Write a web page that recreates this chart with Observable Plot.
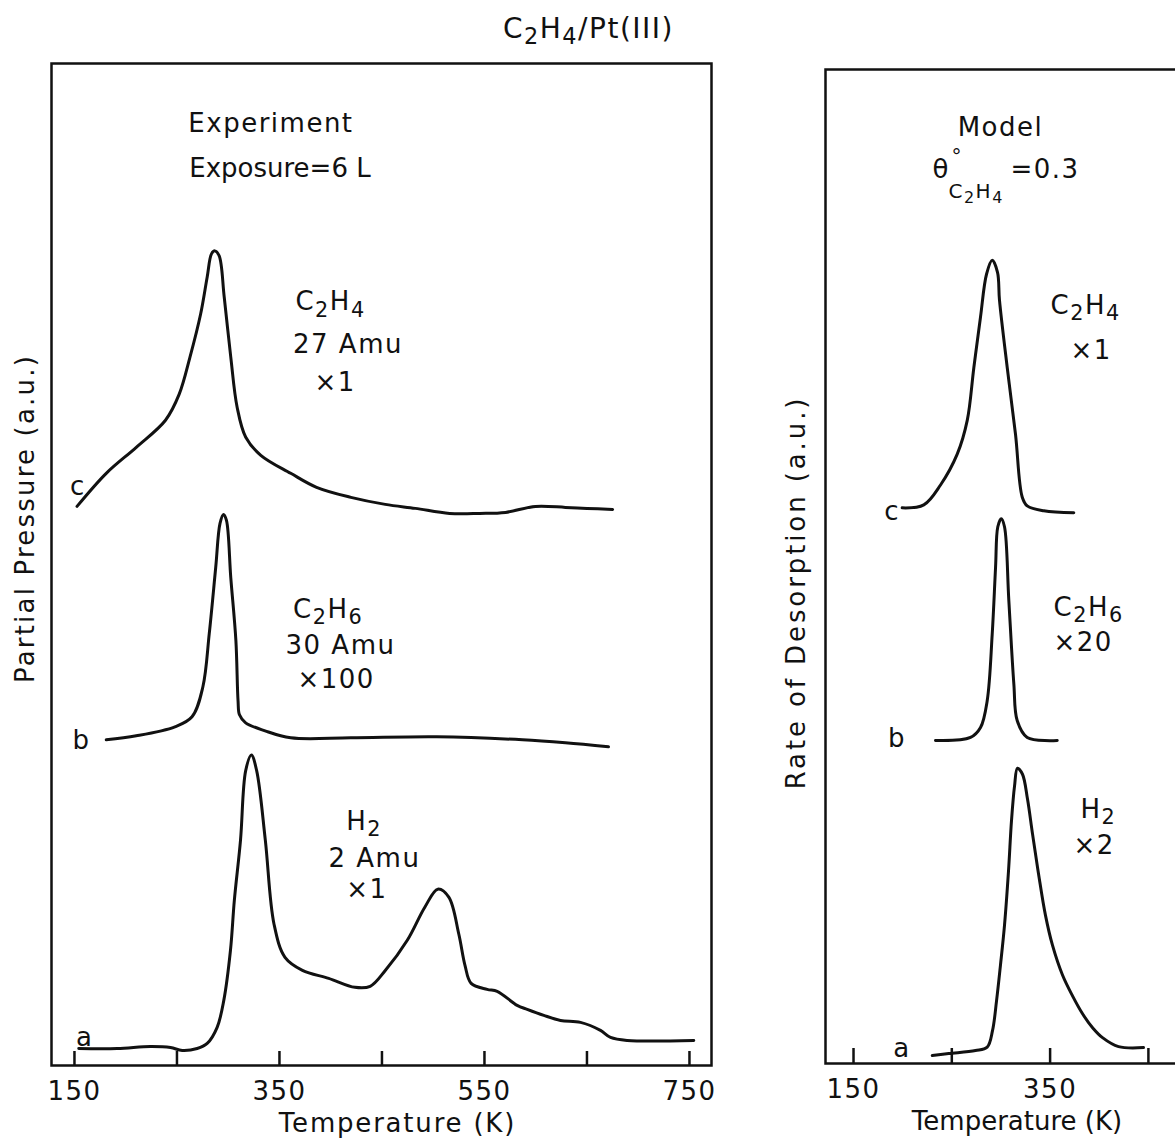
<!DOCTYPE html>
<html><head><meta charset="utf-8">
<script src="https://cdn.jsdelivr.net/npm/d3@7"></script>
<script src="https://cdn.jsdelivr.net/npm/@observablehq/plot@0.6"></script>
<style>
html,body{margin:0;padding:0;background:#fff;overflow:hidden;width:1175px;height:1140px;}
#wrap{position:relative;width:1175px;height:1140px;overflow:hidden;background:#fff;}
#left,#right{position:absolute;top:0;}
#left{left:0;width:740px;} #right{left:760px;width:450px;}
svg{max-width:none !important;}
svg text{letter-spacing:1.5px;}
</style></head><body><div id="wrap"><div id="left"></div><div id="right"></div></div>
<script>
// ---------- data (temperature K, signal in a.u. with each trace's offset) ----------
const leftTicks = [150, 250, 350, 450, 550, 650, 750];
const leftTickLabels = [150, 350, 550, 750];
const rightTicks = [150, 250, 350, 450];
const rightTickLabels = [150, 350];

// Experiment: C2H4 27 amu (trace c)
const expC2H4 = [[152.5,55.8],[181,59.1],[210.3,61.7],[238.8,64.4],[252.2,67.0],[262.7,70.7],[273.1,75.0],[279.5,78.7],[283.7,81.0],[287,81.3],[291.2,80.8],[296.1,76.7],[302.5,70.7],[308.7,65.7],[317.1,62.7],[331.8,60.9],[361,59.1],[386.2,57.7],[419.7,56.7],[453.2,56.0],[482.5,55.6],[516,55.1],[545.3,55.1],[570.5,55.2],[599.8,55.8],[629,55.7],[650,55.6],[675,55.5]];
// Experiment: C2H6 30 amu x100 (trace b)
const expC2H6 = [[181,32.5],[210.3,32.9],[248,33.8],[264.7,34.8],[275.3,37.8],[281.5,43.1],[287.8,49.7],[292,54.1],[295.4,55.0],[298.3,54.4],[302.5,48.7],[307.5,42.4],[309.6,36.4],[311,35.0],[317,34.2],[336,33.4],[361,32.7],[419.7,32.7],[503.5,32.8],[587.2,32.5],[629,32.2],[671,31.8]];
// Experiment: H2 2 amu (trace a)
const expH2 = [[154.2,1.7],[191.7,1.7],[224.1,1.9],[243.7,1.8],[255.1,1.5],[269.7,1.7],[279.5,2.2],[289.2,3.8],[295.7,6.5],[302.2,11.5],[306,16.5],[312,22.5],[317,29.4],[322.6,31.0],[327.8,29.4],[336.2,22.5],[344.7,14.1],[355.4,10.8],[372.4,9.5],[398,8.7],[423.6,7.8],[438.5,7.9],[453.4,9.5],[474.7,12.5],[491.8,15.8],[504.5,17.6],[515.2,16.8],[525,13.1],[531,10.0],[537,8.2],[552.6,7.6],[562.4,7.4],[581.9,6.0],[591.7,5.6],[607.9,5.0],[624.2,4.5],[643.7,4.3],[663.2,3.5],[673,2.8],[689.2,2.5],[754.2,2.5]];

// Model: C2H4 (c), C2H6 x20 (b), H2 x2 (a)
const modelC2H4 = [[199.5,55.9],[221.5,56.2],[238.5,58.2],[255.5,61.3],[265.7,64.7],[272.4,70.0],[279.2,75.1],[285.3,79.4],[291.1,80.8],[296.5,79.6],[298.5,76.8],[306.4,70.0],[314.8,63.3],[321.6,57.0],[326.7,56.1],[343.6,55.6],[374.1,55.4]];
const modelC2H6 = [[233.4,32.5],[269,32.8],[279.2,33.8],[286,36.5],[291.1,43.2],[294.5,49.9],[296.8,54.0],[300.3,54.8],[303.6,54.0],[308,46.6],[313.1,38.2],[316.5,34.5],[326.7,32.8],[357.2,32.5]];
const modelH2 = [[230.1,0.8],[246.9,1.0],[274.1,1.3],[286,1.65],[291.4,3.3],[295.5,6.3],[299.5,9.9],[303.6,13.9],[307.7,19.4],[310.7,24.4],[313.8,27.9],[316.8,29.7],[321.9,29.1],[327,26.6],[332.1,23.1],[338.2,19.1],[345.3,14.9],[352.4,11.9],[362.6,8.9],[372.8,6.8],[383,5.0],[393.2,3.6],[403.3,2.6],[419.6,1.7],[445,1.6]];

// annotations (text, T, v)
const leftLetters = [{text:"c",T:153.4,v:57.8},{text:"b",T:156.8,v:32.4},{text:"a",T:160,v:2.74}];
const rightLetters = [{text:"c",T:189.2,v:55.5},{text:"b",T:194.3,v:32.7},{text:"a",T:199.3,v:1.46}];
const leftHeadings = [{text:"Experiment",T:341.7,v:93.15},{text:"Exposure=6 L",T:350.5,v:88.65}];
const leftSpecies = [{text:"C_2H_4",T:365.6,v:75.35},{text:"27 Amu",T:363.2,v:71.06},{text:"×1",T:384.1,v:67.3},
  {text:"C_2H_6",T:363.2,v:44.7},{text:"30 Amu",T:355.9,v:41.1},{text:"×100",T:367.6,v:37.7},
  {text:"H_2",T:415.1,v:23.55},{text:"2 Amu",T:397.8,v:19.8},{text:"×1",T:415.1,v:16.7}];
const rightHeadings = [{text:"Model",T:299.5,v:93.36}];
const rightThetaBig = [{text:"θ",T:230.4,v:89.1},{text:"=0.3",T:309.7,v:89.1}];
const rightThetaSmall = [{text:"°",T:249.7,v:90.6},{text:"C_2H_4",T:246.6,v:87.1}];
const rightSpecies = [{text:"C_2H_4",T:350.4,v:75.45},{text:"×1",T:370.8,v:70.9},
  {text:"C_2H_6",T:353.5,v:45.07},{text:"×20",T:353.5,v:41.5},
  {text:"H_2",T:380.9,v:24.7},{text:"×2",T:373.8,v:21.1}];

const title = "C_2H_4/Pt(III)";
const xLabel = "Temperature (K)";
const leftYLabel = "Partial Pressure (a.u.)";
const rightYLabel = "Rate of Desorption (a.u.)";

// ---------- drawing ----------
const INK = "#111";
const FONT = "DejaVu Sans";

function subscripts(svg) {
  d3.select(svg).selectAll("text").each(function() {
    const s = this.textContent;
    if (!s.includes("_")) return;
    const segs = [];
    for (let i = 0; i < s.length; i++) {
      if (s[i] === "_" && i + 1 < s.length) { segs.push({t: s[i+1], sub: true}); i++; }
      else {
        if (segs.length && !segs[segs.length-1].sub) segs[segs.length-1].t += s[i];
        else segs.push({t: s[i], sub: false});
      }
    }
    const el = d3.select(this);
    el.text(null);
    let prevSub = false;
    for (const g of segs) {
      const ts = el.append("tspan").text(g.t);
      if (g.sub) { ts.attr("font-size", "80%").attr("dy", "0.3em"); }
      else if (prevSub) { ts.attr("dy", "-0.24em"); }
      prevSub = g.sub;
    }
  });
  return svg;
}

function spacing(svg, content, ls) {
  d3.select(svg).selectAll("text").filter(function() { return this.textContent === content; })
    .style("letter-spacing", ls);
}

function panel(o) {
  const frameH = o.height - o.marginTop - o.marginBottom;
  const lineOpts = {x: d => d[0], y: d => d[1], curve: "catmull-rom", stroke: INK, strokeWidth: 3, strokeLinejoin: "round", strokeLinecap: "round"};
  const marks = [
    Plot.frame({stroke: INK, strokeWidth: 2.5}),
    Plot.tickX(o.ticks, {x: d => d, insetTop: frameH - o.tickLen, stroke: INK, strokeWidth: 2.5}),
    Plot.axisX({ticks: o.tickLabels, tickSize: 0, tickPadding: 16, label: null}),
    ...o.curves.map(c => Plot.line(c, lineOpts)),
    Plot.text(o.letters, {x: "T", y: "v", text: "text", textAnchor: "middle", lineAnchor: "middle", fill: INK}),
    Plot.text(o.headings, {x: "T", y: "v", text: "text", textAnchor: "middle", lineAnchor: "bottom", fill: INK}),
    Plot.text(o.species, {x: "T", y: "v", text: "text", textAnchor: "start", lineAnchor: "bottom", fill: INK}),
    Plot.text([xLabel], {frameAnchor: "bottom", dx: o.xLabelDx, dy: 66, lineAnchor: "bottom", textAnchor: "middle", fill: INK}),
    Plot.text([o.yLabel], {frameAnchor: "left", rotate: -90, dx: o.yLabelDx, dy: o.yLabelDy, lineAnchor: "middle", textAnchor: "middle", fill: INK}),
    ...(o.extra || [])
  ];
  const svg = Plot.plot({
    width: o.width, height: o.height,
    marginLeft: o.marginLeft, marginRight: o.marginRight, marginTop: o.marginTop, marginBottom: o.marginBottom,
    x: {domain: o.xDomain},
    y: {domain: [0, 100], axis: null},
    style: {fontSize: "26px", fontFamily: FONT, color: INK, background: "transparent", overflow: "visible", maxWidth: "none"},
    marks
  });
  spacing(svg, xLabel, o.xLabelSpacing);
  spacing(svg, o.yLabel, o.yLabelSpacing);
  return subscripts(svg);
}

const leftSvg = panel({
  width: 740, height: 1140, marginLeft: 51, marginRight: 29, marginTop: 63, marginBottom: 75,
  xDomain: [127.6, 771.5], ticks: leftTicks, tickLabels: leftTickLabels, tickLen: 14,
  curves: [expC2H4, expC2H6, expH2], letters: leftLetters, headings: leftHeadings, species: leftSpecies,
  xLabelDx: 16, xLabelSpacing: "1.8px", yLabel: leftYLabel, yLabelDx: -26, yLabelDy: -46, yLabelSpacing: "2.2px",
  extra: [Plot.text([title], {frameAnchor: "top", dx: 207, dy: -26, lineAnchor: "bottom", textAnchor: "middle", fontSize: 28, fill: INK})]
});
spacing(leftSvg, "Exposure=6 L", "0px");
spacing(leftSvg, title, "2px");
document.getElementById("left").appendChild(leftSvg);

const rightSvg = panel({
  width: 450, height: 1140, marginLeft: 65, marginRight: 10, marginTop: 69, marginBottom: 77,
  xDomain: [121.5, 503], ticks: rightTicks, tickLabels: rightTickLabels, tickLen: 15,
  curves: [modelC2H4, modelC2H6, modelH2], letters: rightLetters, headings: rightHeadings, species: rightSpecies,
  xLabelDx: 4, xLabelSpacing: "0px", yLabel: rightYLabel, yLabelDx: -29, yLabelDy: 26, yLabelSpacing: "2.9px",
  extra: [
    Plot.text(rightThetaBig, {x: "T", y: "v", text: "text", textAnchor: "start", lineAnchor: "bottom", fill: INK}),
    Plot.text(rightThetaSmall, {x: "T", y: "v", text: "text", textAnchor: "start", lineAnchor: "bottom", fontSize: 20, fill: INK})
  ]
});
document.getElementById("right").appendChild(rightSvg);
</script>
</body></html>
